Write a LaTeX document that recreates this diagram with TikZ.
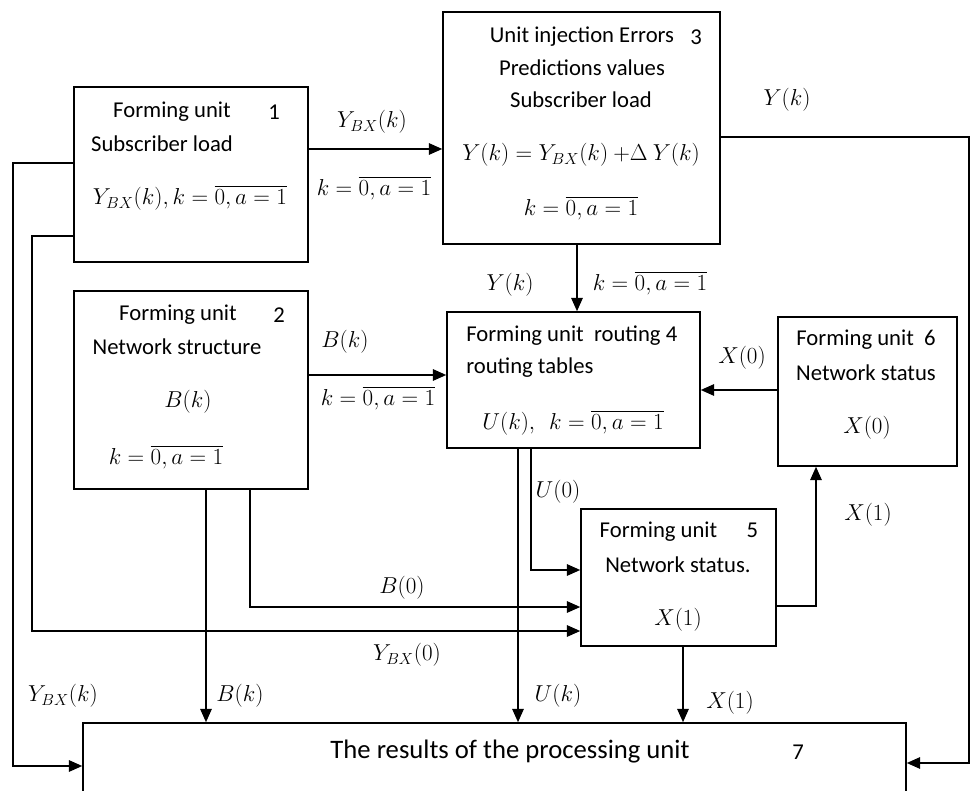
\documentclass[tikz,border=0pt]{standalone}
\usepackage{fontspec}
\setmainfont{Carlito}
\usepackage{amsmath}
\usetikzlibrary{arrows.meta}

\begin{document}
\begin{tikzpicture}[x=0.75pt,y=-0.75pt]
        % Define styles
        \tikzset{
            unit/.style 2 args={rectangle, draw, line width=1.1pt, minimum width=#1*0.75pt, minimum height=#2*0.75pt, inner sep=0pt},
            txt/.style={inner sep=0pt, font=\fontsize{17}{20}\selectfont},
            bigtxt/.style={inner sep=0pt, font=\fontsize{20}{24}\selectfont},
            arrow/.style={-{Triangle[length=10pt,width=8.5pt]}, line width=1.4pt}
        }
        \useasboundingbox (0,0) rectangle (971,791);

        % Nodes
        \node[unit={234}{175}] (unit_node_1) at (191,174.5) {};
        \node[unit={234}{198}] (unit_node_2) at (191,390) {};
        \node[unit={277}{232}] (unit_node_3) at (581.5,128) {};
        \node[unit={253}{136}] (unit_node_4) at (573.5,380) {};
        \node[unit={195}{137}] (unit_node_5) at (678.5,577.5) {};
        \node[unit={179}{149}] (unit_node_6) at (867.5,391.5) {};
        \node[unit={823}{110}] (unit_node_7) at (494.5,778) {};

        % Texts in the units
        \node[txt] (text_1a) at (172,112) {Forming unit};
        \node[txt] (text_1b) at (274,112) {1};
        \node[txt] (text_1c) at (162,144) {Subscriber load};
        \node[txt] (text_1d) at (190,198) {$Y_{BX}(k), k=\overline{0,a=1}$};

        \node[txt] (text_2a) at (178,315) {Forming unit};
        \node[txt] (text_2b) at (279,315) {2};
        \node[txt] (text_2c) at (177,347) {Network structure};
        \node[txt] (text_2d) at (188,402) {$B(k)$};
        \node[txt] (text_2e) at (166,457) {$k=\overline{0,a=1}$};

        \node[txt] (text_3a) at (582,37) {Unit injection Errors};
        \node[txt] (text_3b) at (696,37) {3};
        \node[txt] (text_3c) at (582,68) {Predictions values};
        \node[txt] (text_3d) at (581,100) {Subscriber load};
        \node[txt] (text_3e) at (581,155) {$Y(k)=Y_{BX}(k)\ {+}\Delta\ Y(k)$};
        \node[txt] (text_3f) at (581,208) {$k=\overline{0,a=1}$};

        \node[txt, anchor=west] (text_4a) at (466,336) {Forming unit\ \ routing 4};
        \node[txt, anchor=west] (text_4b) at (466,368) {routing tables};
        \node[txt] (text_4c) at (573,423) {$U(k),\ \ k=\overline{0,a=1}$};

        \node[txt] (text_5a) at (679,532) {Forming unit\hspace{1.3em}5};
        \node[txt] (text_5b) at (678,565) {Network status.};
        \node[txt] (text_5c) at (678,620) {$X(1)$};

        \node[txt] (text_6a) at (866,340) {Forming unit\ \ 6};
        \node[txt] (text_6b) at (866,373) {Network status};
        \node[txt] (text_6c) at (867,428) {$X(0)$};

        \node[bigtxt] (text_7a) at (510,752) {The results of the processing unit};
        \node[txt] (text_7b) at (798,752) {7};

        % Arrows
        \draw[arrow] (unit_node_1.east |- 0,149) -- (unit_node_3.west |- 0,149);
        \draw[arrow] (unit_node_3.east |- 0,137) -| (969,763) -- (unit_node_7.east |- 0,763);
        \draw[arrow] (unit_node_3.south -| 577,0) -- (unit_node_4.north -| 577,0);
        \draw[arrow] (unit_node_2.east |- 0,375) -- (unit_node_4.west |- 0,375);
        \draw[arrow] (unit_node_6.west |- 0,390) -- (unit_node_4.east |- 0,390);
        \draw[arrow] (unit_node_4.south -| 518,0) -- (unit_node_7.north -| 518,0);
        \draw[arrow] (unit_node_4.south -| 531,0) |- (unit_node_5.west |- 0,570);
        \draw[arrow] (unit_node_2.south -| 206,0) -- (unit_node_7.north -| 206,0);
        \draw[arrow] (unit_node_2.south -| 250,0) |- (unit_node_5.west |- 0,607);
        \draw[arrow] (unit_node_1.west |- 0,236) -| (32,631) -- (unit_node_5.west |- 0,631);
        \draw[arrow] (unit_node_1.west |- 0,163) -| (13,766) -- (unit_node_7.west |- 0,766);
        \draw[arrow] (unit_node_5.south -| 683,0) -- (unit_node_7.north -| 683,0);
        \draw[arrow] (unit_node_5.east |- 0,606) -| (unit_node_6.south -| 816,0);

        % Labels on the arrows
        \node[txt] (label_ybx_k1) at (372,122) {$Y_{BX}(k)$};
        \node[txt] (label_range_1) at (374,188) {$k=\overline{0,a=1}$};
        \node[txt] (label_y_k1) at (787,100) {$Y(k)$};
        \node[txt] (label_y_k2) at (510,285) {$Y(k)$};
        \node[txt] (label_range_3) at (650,283) {$k=\overline{0,a=1}$};
        \node[txt] (label_b_k1) at (345,342) {$B(k)$};
        \node[txt] (label_range_2) at (378,398) {$k=\overline{0,a=1}$};
        \node[txt] (label_x_0) at (742,358) {$X(0)$};
        \node[txt] (label_u_0) at (558,492) {$U(0)$};
        \node[txt] (label_x_1a) at (868,515) {$X(1)$};
        \node[txt] (label_b_0) at (402,588) {$B(0)$};
        \node[txt] (label_ybx_0) at (407,655) {$Y_{BX}(0)$};
        \node[txt] (label_ybx_k2) at (63,696) {$Y_{BX}(k)$};
        \node[txt] (label_b_k2) at (240,696) {$B(k)$};
        \node[txt] (label_u_k) at (558,696) {$U(k)$};
        \node[txt] (label_x_1b) at (730,703) {$X(1)$};
    \end{tikzpicture}
\end{document}
